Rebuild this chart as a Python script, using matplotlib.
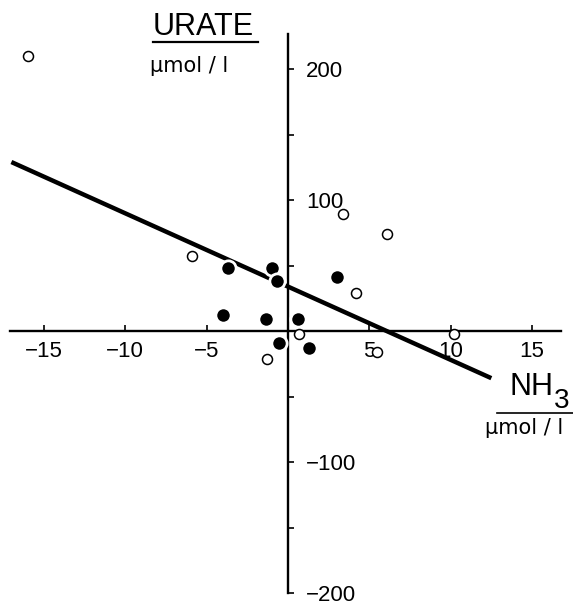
"""Urate vs NH3 change scatter with regression line, redrawn in matplotlib."""
import matplotlib
matplotlib.use("Agg")
import matplotlib.pyplot as plt
from matplotlib.lines import Line2D

# open circles
open_x = [-16.0, -5.9, 3.4, 6.1, 4.2, 0.7, -1.3, 5.5, 10.2]
open_y = [210, 57, 89, 74, 29, -2, -21, -16, -2]
# filled circles
fill_x = [-3.7, -1.0, -0.7, 3.0, -4.0, -1.35, 0.6, -0.55, 1.3]
fill_y = [48, 48, 38, 41, 12, 9, 9, -9, -13]
# regression line end points
line_x = [-17.0, 12.5]
line_y = [129, -36]

x_ticks = [-15, -10, -5, 5, 10, 15]
x_labels = ["\u221215", "\u221210", "\u22125", "5", "10", "15"]
y_ticks = [-200, -150, -100, -50, 50, 100, 150, 200]
y_labels = ["\u2212200", "", "\u2212100", "", "", "100", "", "200"]

W, H = 573, 604
NUM = ["Liberation Sans", "DejaVu Sans"]
UNIT = ["DejaVu Sans"]

fig = plt.figure(figsize=(W / 100, H / 100), dpi=100)
ax = fig.add_axes([0, 0, 1, 1])
ax.set_xlim(-17.70, 17.52)
ax.set_ylim(-208.4, 252.7)
ax.patch.set_visible(False)

for side in ("top", "right"):
    ax.spines[side].set_visible(False)
ax.spines["left"].set_position(("data", 0))
ax.spines["bottom"].set_position(("data", 0))
ax.spines["left"].set_bounds(-200, 227)
ax.spines["bottom"].set_bounds(-17.1, 16.8)
for side in ("left", "bottom"):
    ax.spines[side].set_linewidth(1.7)
    ax.spines[side].set_color("black")

ax.set_xticks(x_ticks, x_labels)
ax.set_yticks(y_ticks, y_labels)
ax.tick_params(axis="both", direction="in", length=4.5, width=1.2, labelsize=16)
ax.tick_params(axis="x", pad=7)
ax.tick_params(axis="y", pad=-13)
for t in ax.get_xticklabels() + ax.get_yticklabels():
    t.set_family(NUM)
for t in ax.get_yticklabels():
    t.set_horizontalalignment("left")
    t.set_verticalalignment("center_baseline")

ax.plot(line_x, line_y, color="black", lw=3.2, solid_capstyle="butt", zorder=3)
ax.plot(fill_x, fill_y, "o", ms=11, mfc="black", mec="white", mew=2, zorder=4)
ax.plot(open_x, open_y, "o", ms=7.2, mfc="white", mec="black", mew=1.1, zorder=4)


def fx(px):
    return px / W


def fy(py):
    return 1 - py / H


fig.text(fx(153), fy(35), "URATE", fontsize=22, family=NUM, va="baseline", ha="left")
fig.add_artist(Line2D([fx(153), fx(258)], [fy(42), fy(42)], color="black", lw=1.6))
fig.text(fx(150), fy(72), "\u00b5mol / l", fontsize=15, family=UNIT, va="baseline", ha="left")

fig.text(fx(510), fy(395), "NH", fontsize=22, family=NUM, va="baseline", ha="left")
fig.text(fx(554), fy(408), "3", fontsize=20, family=NUM, va="baseline", ha="left")
fig.add_artist(Line2D([fx(497), fx(573)], [fy(413), fy(413)], color="black", lw=1.2))
fig.text(fx(485), fy(434), "\u00b5mol / l", fontsize=15, family=UNIT, va="baseline", ha="left")

fig.savefig("out.png", dpi=100)
